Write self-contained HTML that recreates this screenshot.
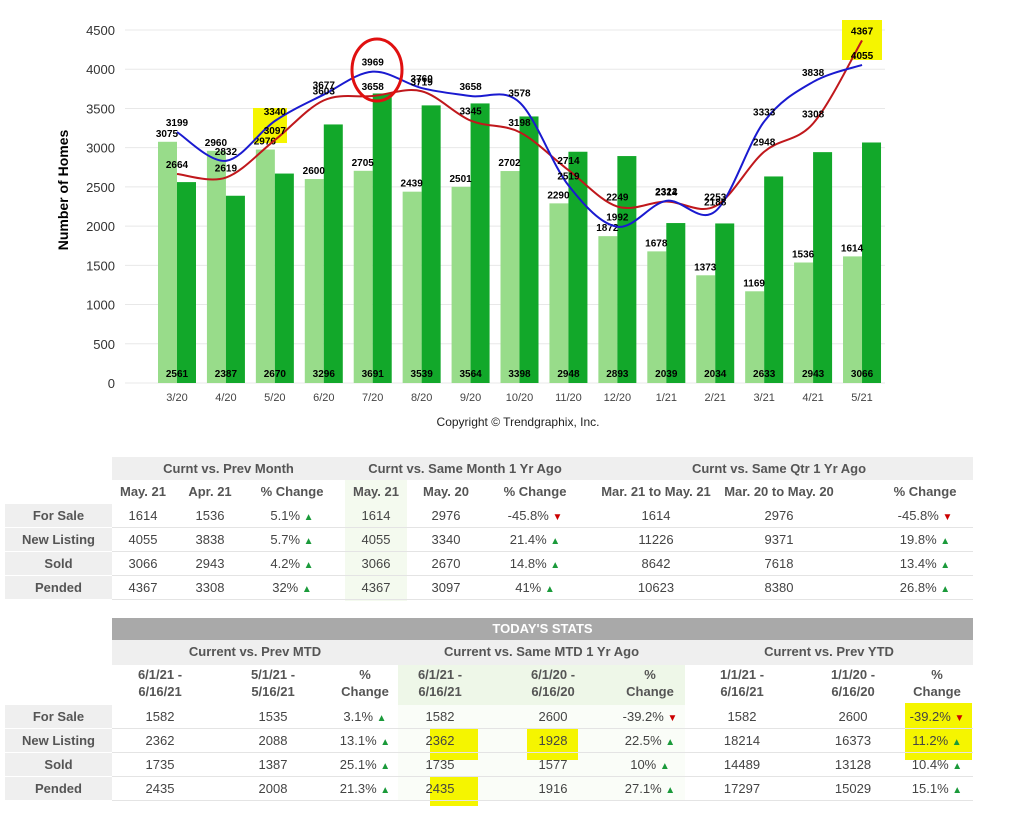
<!DOCTYPE html>
<html><head><meta charset="utf-8">
<style>
body{margin:0;width:1024px;height:814px;background:#fff;font-family:"Liberation Sans",sans-serif;position:relative;overflow:hidden}
.a{position:absolute;text-align:center;font-size:13px;color:#444;line-height:24px}
.b{font-weight:bold;color:#555}
.g{background:#efefef}
.up{color:#1a9a3a;font-size:10px}
.dn{color:#c00;font-size:10px}
.y{background:#f5f500}
</style></head><body>
<svg id="c" width="1024" height="440" style="position:absolute;left:0;top:0" font-family="Liberation Sans, sans-serif"></svg>
<div id="t"></div>
<script>
var s=document.getElementById('c'),h='';
var Y=function(v){return 383-v*353/4500};
for(var i=0;i<=9;i++){var yy=Y(i*500);h+='<line x1="125" x2="885" y1="'+yy+'" y2="'+yy+'" stroke="#e8e8e8"/>';h+='<text x="115" y="'+(yy+5)+'" font-size="13" text-anchor="end" fill="#333">'+(i*500)+'</text>';}
h+='<rect x="253" y="108" width="34" height="35" fill="#f5f500"/><rect x="842" y="20" width="40" height="40" fill="#f5f500"/>';
var L=[3075,2960,2976,2600,2705,2439,2501,2702,2290,1872,1678,1373,1169,1536,1614],
D=[2561,2387,2670,3296,3691,3539,3564,3398,2948,2893,2039,2034,2633,2943,3066],
B=[3199,2832,3340,3677,3969,3760,3658,3578,2519,1992,2322,2188,3333,3838,4055],
R=[2664,2619,3097,3603,3658,3719,3345,3198,2714,2249,2314,2253,2948,3308,4367],
M=['3/20','4/20','5/20','6/20','7/20','8/20','9/20','10/20','11/20','12/20','1/21','2/21','3/21','4/21','5/21'];
for(i=0;i<15;i++){var x=158+i*48.93;
h+='<rect x="'+x+'" y="'+Y(L[i])+'" width="19" height="'+(383-Y(L[i]))+'" fill="#98dc8a"/>';
h+='<rect x="'+(x+19)+'" y="'+Y(D[i])+'" width="19" height="'+(383-Y(D[i]))+'" fill="#12a82a"/>';
h+='<text x="'+(x+9)+'" y="'+(Y(L[i])-5)+'" font-size="10" font-weight="bold" text-anchor="middle">'+L[i]+'</text>';
h+='<text x="'+(x+19)+'" y="'+377+'" font-size="10" font-weight="bold" text-anchor="middle">'+D[i]+'</text>';
h+='<text x="'+(x+19)+'" y="401" font-size="11" text-anchor="middle" fill="#444">'+M[i]+'</text>';}
function path(A,c){var p=A.map(function(v,i){return[177+i*48.93,Y(v)]}),d='M'+p[0];
for(var i=0;i<p.length-1;i++){var p0=p[i-1]||p[i],p1=p[i],p2=p[i+1],p3=p[i+2]||p2;
d+='C'+(p1[0]+(p2[0]-p0[0])/6)+','+(p1[1]+(p2[1]-p0[1])/6)+' '+(p2[0]-(p3[0]-p1[0])/6)+','+(p2[1]-(p3[1]-p1[1])/6)+' '+p2;}
return '<path d="'+d+'" fill="none" stroke="'+c+'" stroke-width="2"/>';}
h+=path(R,'#c0181c')+path(B,'#1a1ad0');
for(i=0;i<15;i++){var x=177+i*48.93;
h+='<text x="'+x+'" y="'+(Y(B[i])-6)+'" font-size="10" font-weight="bold" text-anchor="middle">'+B[i]+'</text>';
h+='<text x="'+x+'" y="'+(Y(R[i])-6)+'" font-size="10" font-weight="bold" text-anchor="middle">'+R[i]+'</text>';}
h+='<ellipse cx="377" cy="70" rx="25" ry="31" fill="none" stroke="#e01010" stroke-width="3"/>';
h+='<text transform="translate(68,190) rotate(-90)" font-size="14" font-weight="bold" text-anchor="middle">Number of Homes</text>';
h+='<text x="518" y="426" font-size="12" text-anchor="middle" fill="#222">Copyright © Trendgraphix, Inc.</text>';
s.innerHTML=h;
var t='';
function cell(x,y,w,hh,txt,cls,st){t+='<div class="a '+(cls||'')+'" style="left:'+x+'px;top:'+y+'px;width:'+w+'px;height:'+hh+'px;'+(st||'')+'">'+txt+'</div>';}
var U=' <span class="up">▲</span>',DN=' <span class="dn">▼</span>';
// table 1
cell(112,457,861,23,'','g');
cell(112,457,233,23,'Curnt vs. Prev Month','b');cell(345,457,240,23,'Curnt vs. Same Month 1 Yr Ago','b');cell(585,457,388,23,'Curnt vs. Same Qtr 1 Yr Ago','b');
cell(345,480,62,121,'','','background:#f4faef');
var c1=[143,210,292,376,446,535,656,779,925],w1=[62,62,90,62,70,90,120,120,90];
var hd1=['May. 21','Apr. 21','% Change','May. 21','May. 20','% Change','Mar. 21 to May. 21','Mar. 20 to May. 20','% Change'];
for(i=0;i<9;i++)cell(c1[i]-w1[i]/2,480,w1[i],24,hd1[i],'b');
var rl=['For Sale','New Listing','Sold','Pended'];
var d1=[['1614','1536','5.1%'+U,'1614','2976','-45.8%'+DN,'1614','2976','-45.8%'+DN],
['4055','3838','5.7%'+U,'4055','3340','21.4%'+U,'11226','9371','19.8%'+U],
['3066','2943','4.2%'+U,'3066','2670','14.8%'+U,'8642','7618','13.4%'+U],
['4367','3308','32%'+U,'4367','3097','41%'+U,'10623','8380','26.8%'+U]];
for(var r=0;r<4;r++){var yy=504+r*24;cell(5,yy,107,24,rl[r],'b g','border-bottom:1px solid #fff;box-sizing:border-box');
t+='<div style="position:absolute;left:112px;top:'+(yy+23)+'px;width:861px;height:1px;background:#e4e4e4"></div>';
for(i=0;i<9;i++)cell(c1[i]-45,yy,90,24,d1[r][i]);}
// table 2
cell(112,618,861,22,'TODAY\'S STATS','b','background:#a9a9a9;color:#fff;line-height:22px');
cell(112,640,861,25,'','g');
cell(112,640,286,25,'Current vs. Prev MTD','b');cell(398,640,287,25,'Current vs. Same MTD 1 Yr Ago','b');cell(685,640,288,25,'Current vs. Prev YTD','b');
cell(398,665,287,40,'','','background:#eef7e8');
cell(398,705,287,96,'','','background:#fafdf8');
t+='<div class="y" style="position:absolute;left:430px;top:728px;width:48px;height:32px"></div><div class="y" style="position:absolute;left:527px;top:728px;width:51px;height:32px"></div><div class="y" style="position:absolute;left:430px;top:777px;width:48px;height:29px"></div><div class="y" style="position:absolute;left:905px;top:703px;width:67px;height:57px"></div>';
var c2=[160,273,365,440,553,650,742,853,937];
var hd2=['6/1/21 -<br>6/16/21','5/1/21 -<br>5/16/21','%<br>Change','6/1/21 -<br>6/16/21','6/1/20 -<br>6/16/20','%<br>Change','1/1/21 -<br>6/16/21','1/1/20 -<br>6/16/20','%<br>Change'];
for(i=0;i<9;i++)cell(c2[i]-45,666,90,40,hd2[i],'b','line-height:17px');
var d2=[['1582','1535','3.1%'+U,'1582','2600','-39.2%'+DN,'1582','2600','-39.2%'+DN],
['2362','2088','13.1%'+U,'2362','1928','22.5%'+U,'18214','16373','11.2%'+U],
['1735','1387','25.1%'+U,'1735','1577','10%'+U,'14489','13128','10.4%'+U],
['2435','2008','21.3%'+U,'2435','1916','27.1%'+U,'17297','15029','15.1%'+U]];
for(r=0;r<4;r++){var yy=705+r*24;cell(5,yy,107,24,rl[r],'b g','border-bottom:1px solid #fff;box-sizing:border-box');
t+='<div style="position:absolute;left:112px;top:'+(yy+23)+'px;width:861px;height:1px;background:#e4e4e4"></div>';
for(i=0;i<9;i++)cell(c2[i]-45,yy,90,24,d2[r][i]);}
document.getElementById('t').innerHTML=t;
</script>
</body></html>
